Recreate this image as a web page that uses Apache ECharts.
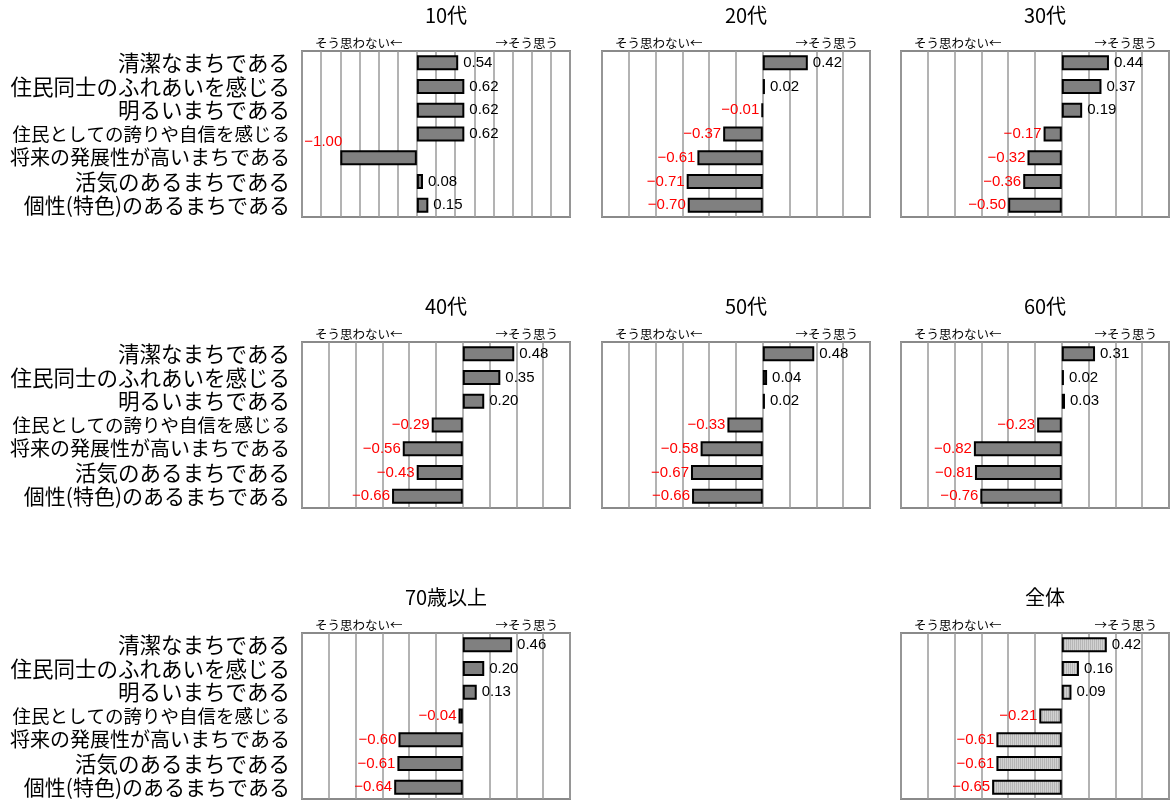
<!DOCTYPE html>
<html>
<head>
<meta charset="utf-8">
<script src="https://cdn.jsdelivr.net/npm/echarts@6/dist/echarts.min.js"></script>
<style>
html, body { margin: 0; padding: 0; background: #fff; }
#chart { width: 1170px; height: 800px; }
</style>
</head>
<body>
<div id="chart"></div>
<script>
// 項目
var categories = [
  '清潔なまちである',
  '住民同士のふれあいを感じる',
  '明るいまちである',
  '住民としての誇りや自信を感じる',
  '将来の発展性が高いまちである',
  '活気のあるまちである',
  '個性(特色)のあるまちである'
];

// 年代別の平均値
var panelNames = ['10代', '20代', '30代', '40代', '50代', '60代', '70歳以上', '全体'];
var v10s  = [0.54, 0.62, 0.62, 0.62, -1.00, 0.08, 0.15];
var v20s  = [0.42, 0.02, -0.01, -0.37, -0.61, -0.71, -0.70];
var v30s  = [0.44, 0.37, 0.19, -0.17, -0.32, -0.36, -0.50];
var v40s  = [0.48, 0.35, 0.20, -0.29, -0.56, -0.43, -0.66];
var v50s  = [0.48, 0.04, 0.02, -0.33, -0.58, -0.67, -0.66];
var v60s  = [0.31, 0.02, 0.03, -0.23, -0.82, -0.81, -0.76];
var v70s  = [0.46, 0.20, 0.13, -0.04, -0.60, -0.61, -0.64];
var vAll  = [0.42, 0.16, 0.09, -0.21, -0.61, -0.61, -0.65];
var panelValues = [v10s, v20s, v30s, v40s, v50s, v60s, v70s, vAll];

var leftText = 'そう思わない←';
var rightText = '→そう思う';

// レイアウト
var colX = [302, 602, 901];
var rowY = [51, 342, 633];
var boxW = 268, boxH = 166;
var cells = [[0,0],[1,0],[2,0],[0,1],[1,1],[2,1],[0,2],[2,2]];
var axisMax = [2.0, 1.0, 1.0, 1.0, 1.0, 1.0, 1.0, 1.0];
var labelSizes = [21.5, 21.5, 21.5, 18.5, 20, 21.5, 21];

var jp = '"Noto Sans CJK JP", "Noto Sans", sans-serif';
var num = '"Liberation Sans", Arial, sans-serif';

// 全体の縦縞模様
var pat = document.createElement('canvas');
pat.width = 2; pat.height = 2;
var pc = pat.getContext('2d');
pc.fillStyle = '#d2d2d2'; pc.fillRect(0, 0, 2, 2);
pc.fillStyle = '#b6b6b6'; pc.fillRect(0, 0, 1, 2);

function fmt(v) {
  var s = Math.abs(v).toFixed(2);
  return v < 0 ? '\u2212' + s : s;
}

var grids = [], xAxes = [], yAxes = [], series = [], graphics = [];

panelNames.forEach(function (name, i) {
  var cx = colX[cells[i][0]], cy = rowY[cells[i][1]];
  var showCat = cells[i][0] === 0;
  grids.push({
    left: cx, top: cy, width: boxW, height: boxH,
    show: true, borderColor: '#8a8a8a', borderWidth: 2, backgroundColor: '#fff'
  });
  xAxes.push({
    gridIndex: i, type: 'value', min: -1.5, max: axisMax[i], interval: 0.25,
    axisLabel: { show: false }, axisLine: { show: false }, axisTick: { show: false },
    splitLine: { show: true, lineStyle: { color: '#9a9a9a', width: 1.5 } }
  });
  yAxes.push({
    gridIndex: i, type: 'category', data: categories, inverse: true,
    axisLine: { show: false }, axisTick: { show: false },
    axisLabel: {
      show: showCat, margin: 12, color: '#000', fontFamily: jp,
      formatter: function (val, idx) { return '{s' + idx + '|' + val + '}'; },
      rich: labelSizes.reduce(function (o, s, k) {
        o['s' + k] = { fontSize: s, fontFamily: jp, color: '#000' };
        return o;
      }, {})
    }
  });
  var isAll = name === '全体';
  series.push({
    type: 'bar', xAxisIndex: i, yAxisIndex: i, barWidth: 15,
    itemStyle: {
      color: isAll ? { image: pat, repeat: 'repeat' } : '#808080',
      borderColor: '#000', borderWidth: 2
    },
    data: panelValues[i].map(function (v) {
      var neg = v < 0;
      var lab = {
        show: true, position: neg ? 'left' : 'right', distance: neg ? 2 : 5,
        color: neg ? '#ff0000' : '#000', fontSize: 15, fontFamily: num,
        formatter: function () { return fmt(v); }
      };
      if (v <= -1) { lab.offset = [4, -16]; }
      return { value: v, label: lab };
    })
  });
  graphics.push({
    type: 'text', x: cx + boxW / 2 + 10, y: cy - 36,
    style: { text: name, textAlign: 'center', textVerticalAlign: 'middle', align: 'center', verticalAlign: 'middle',
             fontSize: 20, fontFamily: jp, fill: '#000' }
  });
  graphics.push({
    type: 'text', x: cx + 13, y: cy - 8,
    style: { text: leftText, textAlign: 'left', textVerticalAlign: 'middle', align: 'left', verticalAlign: 'middle',
             fontSize: 12.5, fontFamily: jp, fill: '#000' }
  });
  graphics.push({
    type: 'text', x: cx + boxW - 12, y: cy - 8,
    style: { text: rightText, textAlign: 'right', textVerticalAlign: 'middle', align: 'right', verticalAlign: 'middle',
             fontSize: 12.5, fontFamily: jp, fill: '#000' }
  });
});

var chart = echarts.init(document.getElementById('chart'));
chart.setOption({
  backgroundColor: '#fff',
  animation: false,
  grid: grids,
  xAxis: xAxes,
  yAxis: yAxes,
  series: series,
  graphic: graphics
});
</script>
</body>
</html>
